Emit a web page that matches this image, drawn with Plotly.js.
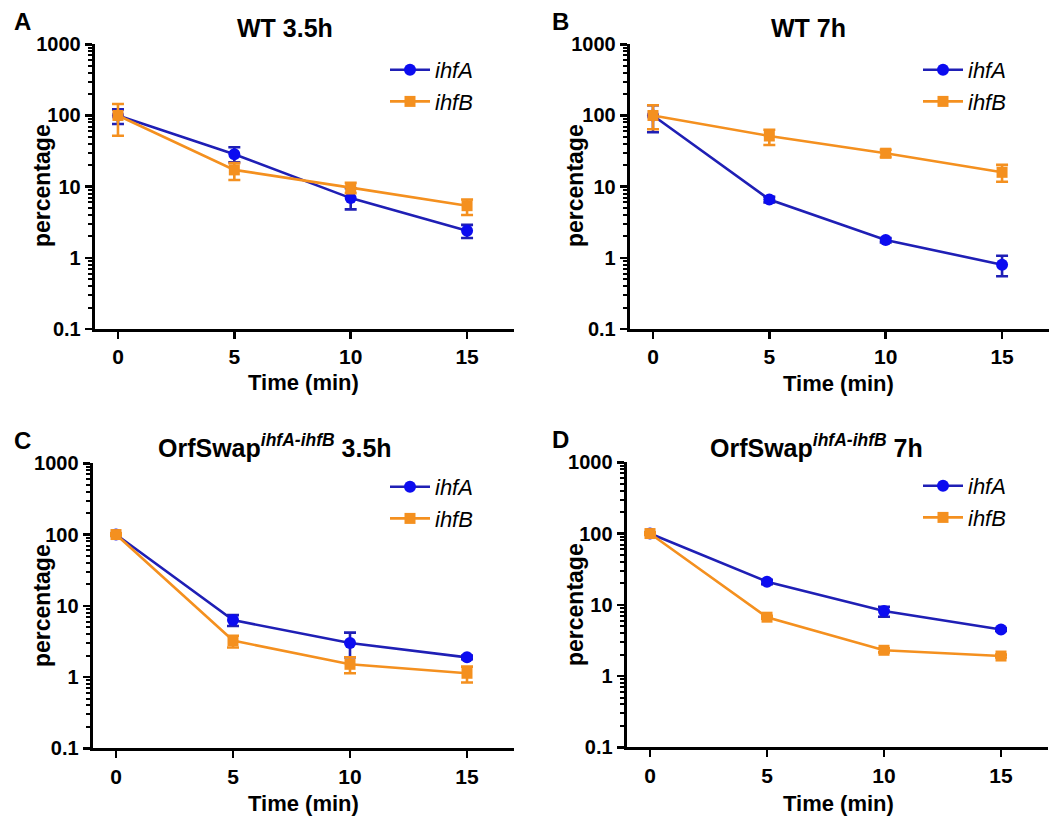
<!DOCTYPE html>
<html>
<head>
<meta charset="utf-8">
<script src="https://cdn.plot.ly/plotly-3.0.1.min.js"></script>
<style>html,body{margin:0;padding:0;background:#fff;}#chart{width:1055px;height:818px;}</style>
</head>
<body>
<div id="chart"></div>
<script>
// ---- data ----
const timeMin = [0, 5, 10, 15];
const xTicks = [0, 5, 10, 15];
const yTickVals = [0.1, 1, 10, 100, 1000];
const yTickText = ['0.1', '1', '10', '100', '1000'];
const seriesNames = ['ihfA', 'ihfB'];
const panelLetters = ['A', 'B', 'C', 'D'];
const panelTitles = ['WT 3.5h', 'WT 7h', 'OrfSwap<sup><i>ihfA-ihfB</i></sup> 3.5h', 'OrfSwap<sup><i>ihfA-ihfB</i></sup> 7h'];
const xTitle = 'Time (min)';
const yTitle = 'percentage';

// Panel A: WT 3.5h
const A_ihfA = [100, 28.5, 6.9, 2.4];
const A_ihfA_hi = [122, 35.7, 9.5, 2.9];
const A_ihfA_lo = [76, 22, 4.8, 1.9];
const A_ihfB = [100, 17.2, 9.7, 5.4];
const A_ihfB_hi = [145, 21.4, 11.3, 6.6];
const A_ihfB_lo = [52, 12.4, 8.1, 4.0];
// Panel B: WT 7h
const B_ihfA = [100, 6.6, 1.78, 0.8];
const B_ihfA_hi = [139, 7.2, 1.9, 1.07];
const B_ihfA_lo = [58, 6.0, 1.65, 0.55];
const B_ihfB = [100, 51.5, 29.5, 15.9];
const B_ihfB_hi = [139, 63, 33, 20.2];
const B_ihfB_lo = [64, 38.5, 26, 11.7];
// Panel C: OrfSwap 3.5h
const C_ihfA = [100, 6.3, 3.0, 1.89];
const C_ihfA_hi = [104, 7.4, 4.2, 2.0];
const C_ihfA_lo = [96, 5.2, 1.9, 1.78];
const C_ihfB = [100, 3.25, 1.51, 1.13];
const C_ihfB_hi = [104, 3.8, 1.9, 1.4];
const C_ihfB_lo = [96, 2.6, 1.13, 0.84];
// Panel D: OrfSwap 7h
const D_ihfA = [100, 21.1, 8.2, 4.5];
const D_ihfA_hi = [104, 22.5, 9.4, 4.7];
const D_ihfA_lo = [96, 19.5, 6.8, 4.3];
const D_ihfB = [100, 6.7, 2.3, 1.91];
const D_ihfB_hi = [104, 7.0, 2.45, 2.0];
const D_ihfB_lo = [96, 6.4, 2.15, 1.82];

// ---- styling ----
const W = 1055, H = 818;
const BLUE_LINE = '#1f1fb5', BLUE_MK = '#0c0cf0';
const ORANGE = '#f4901f';
const FONT = 'Liberation Sans, Arial, Helvetica, sans-serif';

// pixel boxes for each panel: [left, right, top, bottom]
const boxes = [
  [94.7, 513.6, 44.3, 329],
  [629.7, 1048.6, 44.3, 329],
  [92.6, 513.8, 463.3, 748.3],
  [626.6, 1047.8, 462.3, 747.3]
];
const titleCenters = [[285, 28], [808, 28], [275, 446], [816, 446]];
const letterPos = [[12, 21], [550, 21], [12, 440], [550, 439]];
const legendPos = [[385, 49], [918, 49], [385, 466], [918, 465]];
const xTitlePos = [[303, 382], [838, 383], [303, 803], [838, 803]];
const yTitlePos = [[42, 186], [575, 186], [42, 606], [575, 605]];

const panels = [
  [A_ihfA, A_ihfA_hi, A_ihfA_lo, A_ihfB, A_ihfB_hi, A_ihfB_lo],
  [B_ihfA, B_ihfA_hi, B_ihfA_lo, B_ihfB, B_ihfB_hi, B_ihfB_lo],
  [C_ihfA, C_ihfA_hi, C_ihfA_lo, C_ihfB, C_ihfB_hi, C_ihfB_lo],
  [D_ihfA, D_ihfA_hi, D_ihfA_lo, D_ihfB, D_ihfB_hi, D_ihfB_lo]
];

const traces = [];
const layout = {
  width: W, height: H,
  margin: {l: 0, r: 0, t: 0, b: 0},
  paper_bgcolor: '#ffffff', plot_bgcolor: '#ffffff',
  font: {family: FONT, color: '#000'},
  showlegend: true,
  annotations: []
};

const diff = (a, b) => a.map((v, i) => Math.abs(v - b[i]));

panels.forEach((p, k) => {
  const n = k + 1;
  const xa = 'x' + (n === 1 ? '' : n), ya = 'y' + (n === 1 ? '' : n);
  const lg = 'legend' + (n === 1 ? '' : n);
  const [yA, hiA, loA, yB, hiB, loB] = p;
  traces.push({
    x: timeMin, y: yA, name: seriesNames[0], type: 'scatter', mode: 'lines+markers',
    xaxis: xa, yaxis: ya, legend: lg, cliponaxis: false,
    line: {color: BLUE_LINE, width: 2.6},
    marker: {symbol: 'circle', size: 12, color: BLUE_MK},
    error_y: {type: 'data', symmetric: false, array: diff(hiA, yA), arrayminus: diff(yA, loA),
              color: BLUE_LINE, thickness: 2.6, width: 6}
  });
  traces.push({
    x: timeMin, y: yB, name: seriesNames[1], type: 'scatter', mode: 'lines+markers',
    xaxis: xa, yaxis: ya, legend: lg, cliponaxis: false,
    line: {color: ORANGE, width: 2.6},
    marker: {symbol: 'square', size: 11, color: ORANGE},
    error_y: {type: 'data', symmetric: false, array: diff(hiB, yB), arrayminus: diff(yB, loB),
              color: ORANGE, thickness: 2.6, width: 6}
  });

  const [l, r, t, b] = boxes[k];
  const xKey = 'xaxis' + (n === 1 ? '' : n), yKey = 'yaxis' + (n === 1 ? '' : n);
  layout[xKey] = {
    domain: [l / W, r / W], anchor: ya, range: [-1, 17],
    tickvals: xTicks, ticktext: xTicks.map(String),
    ticks: 'outside', ticklen: 7, tickwidth: 2.5, tickcolor: '#000',
    showline: true, linewidth: 3, linecolor: '#000',
    showgrid: false, zeroline: false,
    tickfont: {family: FONT, size: 21, weight: 'bold'}
  };
  layout[yKey] = {
    domain: [1 - b / H, 1 - t / H], anchor: xa, type: 'log', range: [-1, 3],
    tickvals: yTickVals, ticktext: yTickText,
    ticks: 'outside', ticklen: 7, tickwidth: 2.5, tickcolor: '#000',
    minor: {ticks: 'outside', ticklen: 4, tickwidth: 2, tickcolor: '#000', dtick: 'D1', showgrid: false},
    showline: true, linewidth: 3, linecolor: '#000',
    showgrid: false, zeroline: false,
    tickfont: {family: FONT, size: 20, weight: 'bold'}
  };
  layout[lg] = {
    x: legendPos[k][0] / W, y: 1 - legendPos[k][1] / H, xanchor: 'left', yanchor: 'top',
    bgcolor: 'rgba(0,0,0,0)', borderwidth: 0, itemwidth: 40, tracegroupgap: 0,
    font: {family: FONT, size: 22, style: 'italic', color: '#000'}
  };
  layout.annotations.push({
    text: panelTitles[k], xref: 'paper', yref: 'paper', showarrow: false,
    x: titleCenters[k][0] / W, y: 1 - titleCenters[k][1] / H, xanchor: 'center', yanchor: 'middle',
    font: {family: FONT, size: 25, weight: 'bold', color: '#000'}
  });
  layout.annotations.push({
    text: panelLetters[k], xref: 'paper', yref: 'paper', showarrow: false,
    x: letterPos[k][0] / W, y: 1 - letterPos[k][1] / H, xanchor: 'left', yanchor: 'middle',
    font: {family: FONT, size: 24, weight: 'bold', color: '#000'}
  });
  layout.annotations.push({
    text: xTitle, xref: 'paper', yref: 'paper', showarrow: false,
    x: xTitlePos[k][0] / W, y: 1 - xTitlePos[k][1] / H, xanchor: 'center', yanchor: 'middle',
    font: {family: FONT, size: 22, weight: 'bold', color: '#000'}
  });
  layout.annotations.push({
    text: yTitle, xref: 'paper', yref: 'paper', showarrow: false, textangle: -90,
    x: yTitlePos[k][0] / W, y: 1 - yTitlePos[k][1] / H, xanchor: 'center', yanchor: 'middle',
    font: {family: FONT, size: 23, weight: 'bold', color: '#000'}
  });
});

Plotly.newPlot('chart', traces, layout, {staticPlot: true, displayModeBar: false});
</script>
</body>
</html>
